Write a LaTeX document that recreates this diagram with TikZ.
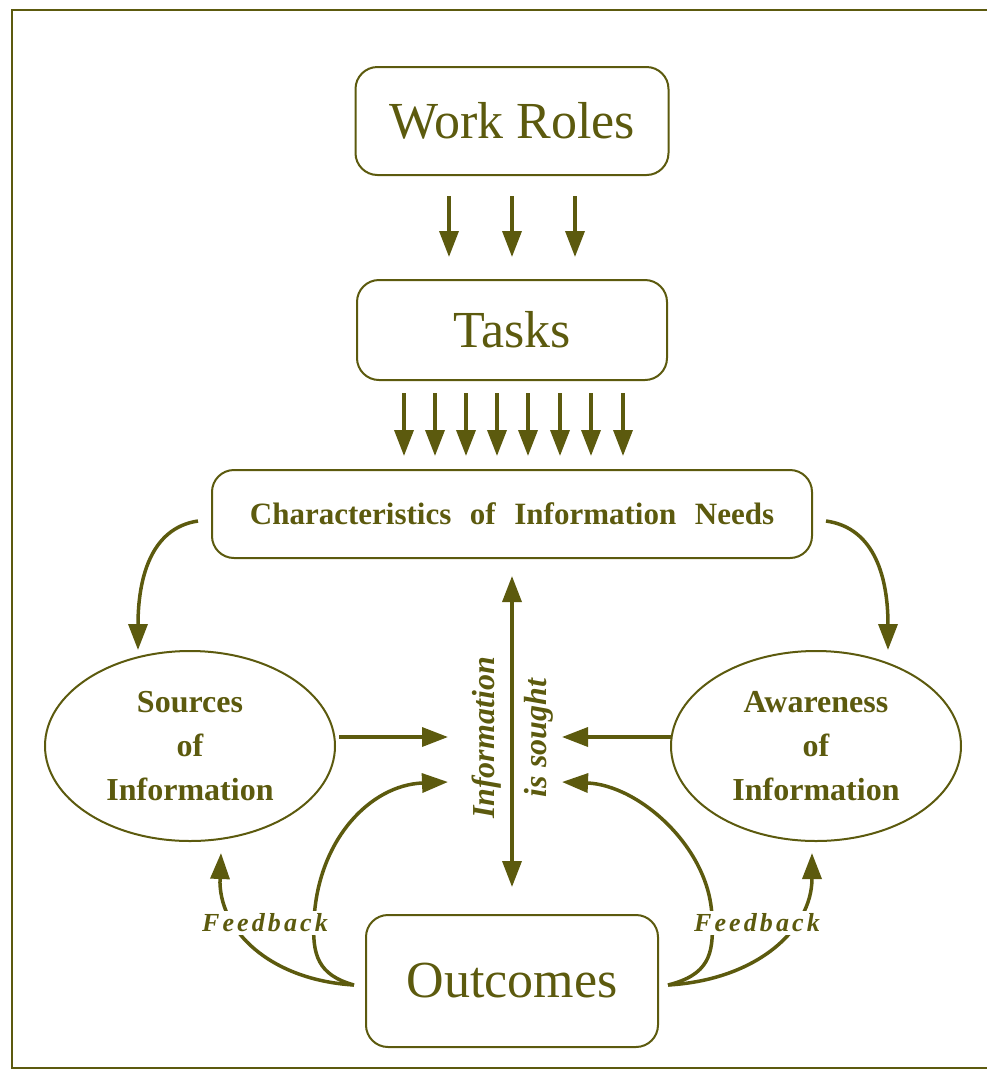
\documentclass[tikz,border=0pt]{standalone}
\usepackage{fontspec}
\setmainfont{Liberation Serif}
\usetikzlibrary{arrows.meta, positioning, shapes.geometric}
\definecolor{olivedk}{RGB}{92,90,14}

\begin{document}
\begin{tikzpicture}[x=1pt,y=-1pt,on grid,>={Triangle[length=26pt,width=19pt]},
		every node/.style={text=olivedk},
		box/.style={draw=olivedk,line width=2pt,rounded corners=22pt,inner sep=0pt},
		big/.style={font=\fontsize{52}{60}\selectfont},
		oval/.style={draw=olivedk,line width=2pt,ellipse,inner sep=0pt,minimum width=290pt,minimum height=190pt,align=center,font=\fontsize{32}{44}\selectfont\bfseries},
		flow/.style={draw=olivedk,line width=3.5pt},
		feedback/.style={fill=white,inner sep=3pt,font=\fontsize{26}{30}\selectfont\bfseries\itshape\addfontfeatures{LetterSpace=12}}]
		
		\useasboundingbox (0,0) rectangle (987,1080);
		\draw [olivedk, line width=2.5pt] (987,10) -- (12,10) -- (12,1068) -- (987,1068);
		
		\node (workroles) [box, big, minimum width=313pt, minimum height=108pt] at (512,121) {Work Roles};
		\node (tasks) [box, big, minimum width=310pt, minimum height=100pt, below=209pt of workroles] {Tasks};
		\node (needs) [box, minimum width=600pt, minimum height=88pt, below=184pt of tasks, font=\fontsize{31}{36}\selectfont\bfseries] {Characteristics\hspace{.6em}of\hspace{.6em}Information\hspace{.6em}Needs};
		\node (outcomes) [box, big, minimum width=292pt, minimum height=132pt, below=467pt of needs] {Outcomes};
		\node (sources) [oval] at (190,746) {Sources\\of\\Information};
		\node (awareness) [oval] at (816,746) {Awareness\\of\\Information};
		\node (sought) [rotate=90, align=center, font=\fontsize{32}{52}\selectfont\bfseries\itshape] at (513,738) {Information\\is sought};
		
		\coordinate (srcin) at (138,650);
		\coordinate (awin) at (888,650);
		\coordinate (srcout) at (339,737);
		\coordinate (awout) at (672,737);
		\coordinate (inL) at (448,737);
		\coordinate (inR) at (562,737);
		\coordinate (fbL) at (448,782);
		\coordinate (fbR) at (562,782);
		\coordinate (upL) at (221,853);
		\coordinate (upR) at (812,853);
		\coordinate (joinL) at ([xshift=-11pt,yshift=-4pt]outcomes.west);
		\coordinate (joinR) at ([xshift=9pt,yshift=-4pt]outcomes.east);
		
		\foreach \dx in {-63,0,63}
			\draw [flow,->] ([xshift=\dx pt,yshift=-20pt]workroles.south) -- ([xshift=\dx pt,yshift=22pt]tasks.north);
		\foreach \dx in {-108,-77,-46,-15,16,48,79,111}
			\draw [flow,->] ([xshift=\dx pt,yshift=-12pt]tasks.south) -- ([xshift=\dx pt,yshift=13pt]needs.north);
		
		\draw [flow,<->] ([yshift=-17pt]needs.south) -- ([yshift=27pt]outcomes.north);
		\draw [flow,->] ([xshift=-13pt,yshift=-7pt]needs.west) .. controls (150,528) and (138,580) .. (srcin);
		\draw [flow,->] ([xshift=13pt,yshift=-7pt]needs.east) .. controls (876,528) and (888,580) .. (awin);
		
		\draw [flow,->] (srcout) -- (inL);
		\draw [flow,->] (awout) -- (inR);
		
		% feedback loops from the outcomes
		\draw [flow,->] (joinL) .. controls (270,980) and (218,930) .. (upL);
		\draw [flow,->] (joinL) .. controls (318,975) and (312,955) .. (314,920) .. controls (318,840) and (370,785) .. (fbL);
		\draw [flow,->] (joinR) .. controls (756,980) and (812,930) .. (upR);
		\draw [flow,->] (joinR) .. controls (708,975) and (714,955) .. (712,920) .. controls (712,850) and (640,785) .. (fbR);
		
		\node (fbtextL) [feedback] at (265,923) {Feedback};
		\node (fbtextR) [feedback] at (757,923) {Feedback};
		
	\end{tikzpicture}
\end{document}
